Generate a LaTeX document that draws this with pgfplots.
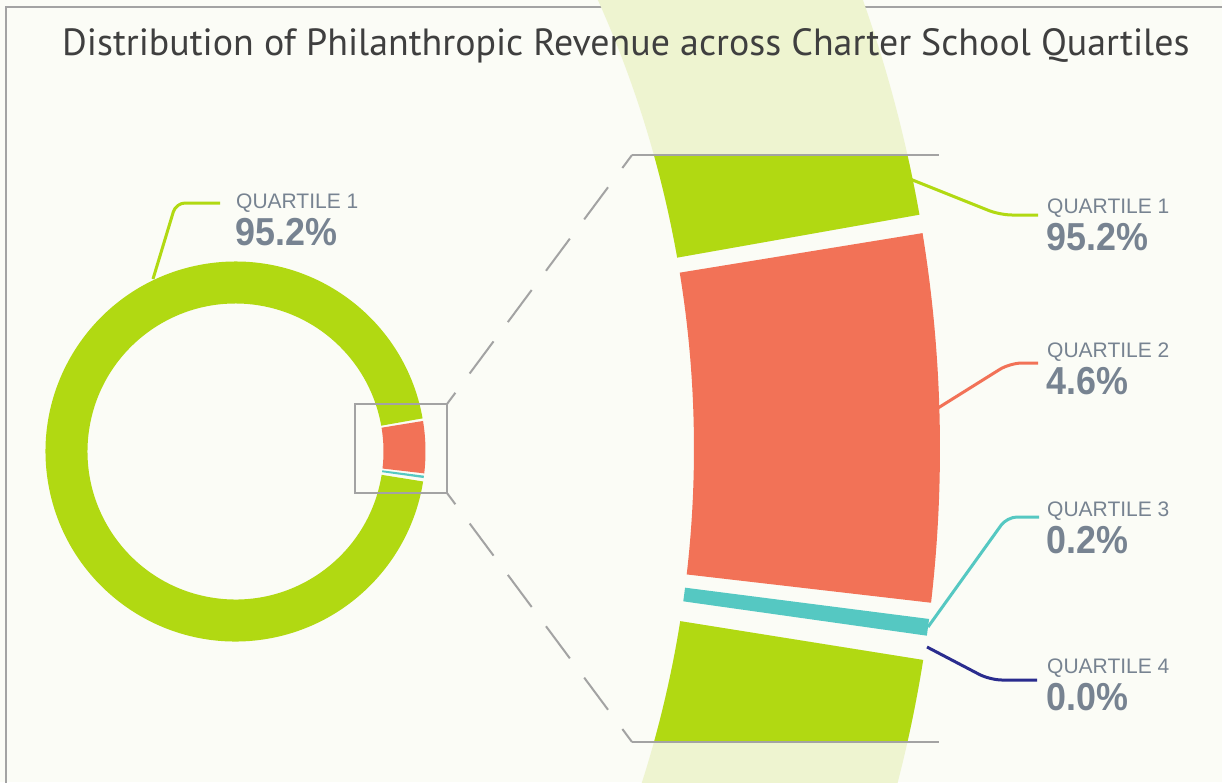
\documentclass[border=0pt]{standalone}
\usepackage{pgfplots}
\pgfplotsset{compat=1.18}
\usepackage{pgfplotstable}
\usepackage{graphicx}
\usepackage{fontspec}
\setmainfont{Liberation Sans}
\newfontfamily\titlefont{PT Sans}
\definecolor{bg}{HTML}{FBFCF6}
\definecolor{framegray}{HTML}{A3A3A3}
\definecolor{titlegray}{HTML}{3F3F3F}
\definecolor{qgreen}{HTML}{B1D912}
\definecolor{qpale}{HTML}{EEF4D0}
\definecolor{qred}{HTML}{F27257}
\definecolor{qteal}{HTML}{55C8C2}
\definecolor{qnavy}{HTML}{2A2C8E}
\definecolor{labgray}{HTML}{778391}

\pgfplotstableread{
quartile share
1 95.2
2 4.6
3 0.2
4 0.0
}\sharetable

% ring segment: color, cx, cy, inner r, outer R, angle from, angle to (canvas degrees)
\newcommand{\ringseg}[7]{%
  \fill[#1] (axis cs:#2,#3) ++(#6:#5pt) arc[start angle=#6,end angle=#7,radius=#5pt]
    -- ++({#7+180}:{(#5-#4)*1pt}) arc[start angle=#7,end angle=#6,radius=#4pt] -- cycle;}

\newcommand{\qlabel}[4]{% x, y of first baseline, name, value
  \node[anchor=base west, inner sep=0pt, text=labgray, font=\fontsize{21}{21}\selectfont] at (axis cs:#1,#2) {#3};
  \node[anchor=base west, inner sep=0pt, text=labgray, font=\fontsize{39}{39}\selectfont\bfseries] at (axis cs:#1-1,{#2+37}) {\scalebox{0.92}[1]{#4}};}

\begin{document}
\begin{tikzpicture}
\pgfplotstablegetelem{0}{share}\of\sharetable \let\sA\pgfplotsretval
\pgfplotstablegetelem{1}{share}\of\sharetable \let\sB\pgfplotsretval
\pgfplotstablegetelem{2}{share}\of\sharetable \let\sC\pgfplotsretval
\pgfplotstablegetelem{3}{share}\of\sharetable \let\sD\pgfplotsretval
\pgfmathsetmacro{\gap}{0.7}
\pgfmathsetmacro{\redHi}{9.25}
\pgfmathsetmacro{\redLo}{\redHi-3.6*\sB+\gap}
\pgfmathsetmacro{\tealHi}{\redLo-\gap}
\pgfmathsetmacro{\tealLo}{\tealHi-max(3.6*\sC,0.7)}
\pgfmathsetmacro{\grnLo}{\tealLo-\gap-3.6*\sD-0.35+360}
\pgfmathsetmacro{\grnHi}{\redHi+0.8}
\useasboundingbox (0,0) rectangle (1222pt,782pt);
\begin{axis}[
  x=1pt, y=1pt, xmin=0, xmax=1222, ymin=0, ymax=782,
  y dir=reverse, hide axis, scale only axis, clip=true,
  at={(0,0)}, anchor=south west,
]
\fill[bg] (axis cs:0,0) rectangle (axis cs:1222,782);
% frame
\draw[framegray, line width=2.5pt] (axis cs:6,800) -- (axis cs:6,7) -- (axis cs:1240,7);
% pale continuation of the zoomed ring
\ringseg{qpale}{-400}{448.5}{1094}{1340}{\grnHi}{\grnLo}
% title
\node[anchor=base west, inner sep=0pt, text=titlegray, font=\titlefont\fontsize{37.9}{38}\selectfont] at (axis cs:62,55) {Distribution of Philanthropic Revenue across Charter School Quartiles};
% left donut
\ringseg{qgreen}{235.5}{451.5}{148}{190}{\grnHi}{\grnLo}
\ringseg{qred}{235.5}{451.5}{148}{190}{\redLo}{\redHi}
\ringseg{qteal}{235.5}{451.5}{148}{190}{\tealLo}{\tealHi}
% zoom box and connectors
\draw[framegray, line width=2.2pt] (axis cs:355,404) rectangle (axis cs:447,493);
\draw[framegray, line width=2pt, dash pattern=on 14pt off 24pt on 40pt off 24pt on 40pt off 24pt on 40pt off 24pt on 40pt off 24pt on 20pt] (axis cs:447,404) -- (axis cs:632,155);
\draw[framegray, line width=2pt, dash pattern=on 14pt off 24pt on 40pt off 24pt on 40pt off 24pt on 40pt off 24pt on 40pt off 24pt on 20pt] (axis cs:447,493) -- (axis cs:632,742);
% zoomed ring
\begin{scope}
\clip (axis cs:0,155) rectangle (axis cs:1222,742);
\ringseg{qgreen}{-400}{448.5}{1094}{1340}{\grnHi}{\grnLo}
\ringseg{qred}{-400}{448.5}{1094}{1340}{\redLo}{\redHi}
\ringseg{qteal}{-400}{448.5}{1094}{1340}{\tealLo}{\tealHi}
\end{scope}
\draw[framegray, line width=2pt] (axis cs:632,155) -- (axis cs:939,155);
\draw[framegray, line width=2pt] (axis cs:632,742) -- (axis cs:939,742);
% leader lines
\draw[qgreen, line width=3pt, rounded corners=9pt] (axis cs:153,279) -- (axis cs:176,203) -- (axis cs:220,203);
\draw[qgreen, line width=3pt, rounded corners=12pt] (axis cs:910,179) -- (axis cs:1000,215) -- (axis cs:1038,215);
\draw[qred, line width=3pt, rounded corners=12pt] (axis cs:938,408) -- (axis cs:1010,363) -- (axis cs:1038,363);
\draw[qteal, line width=3pt, rounded corners=10pt] (axis cs:928,627) -- (axis cs:1007,517) -- (axis cs:1039,517);
\draw[qnavy, line width=3pt, rounded corners=12pt] (axis cs:927,647) -- (axis cs:990,680) -- (axis cs:1037,680);
% labels
\qlabel{236}{208}{QUARTILE 1}{95.2\%}
\qlabel{1047}{213}{QUARTILE 1}{95.2\%}
\qlabel{1047}{357}{QUARTILE 2}{4.6\%}
\qlabel{1047}{516}{QUARTILE 3}{0.2\%}
\qlabel{1047}{673}{QUARTILE 4}{0.0\%}
\end{axis}
\end{tikzpicture}
\end{document}
